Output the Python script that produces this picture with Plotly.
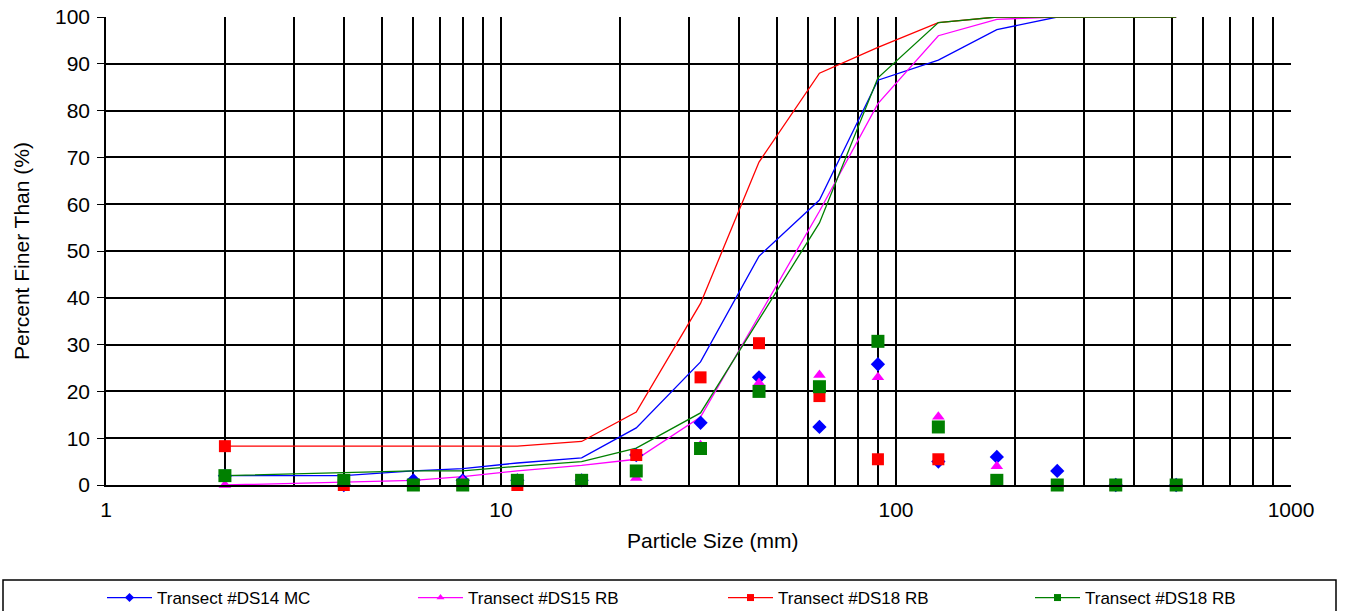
import plotly.graph_objects as go

sizes = [2, 4, 6, 8, 11, 16, 22, 32, 45, 64, 90, 128, 180, 256, 360, 512]

names = ["Transect #DS14 MC", "Transect #DS15 RB", "Transect #DS18 RB", "Transect #DS18 RB"]
colors = ["#0000FF", "#FF00FF", "#FF0000", "#008000"]
symbols = ["diamond", "triangle-up", "square", "square"]
msizes = [11, 11, 12, 13]

# cumulative percent finer (lines)
blue_cum = [2, 2, 3, 3.5, 4.7, 5.8, 12.2, 26.3, 48.9, 60.9, 86.5, 90.8, 97.3, 100, 100, 100]
magenta_cum = [0, 0.7, 1, 1.8, 3, 4.2, 5.5, 14.5, 36, 58.5, 81.5, 96, 99.5, 100, 100, 100]
red_cum = [8.3, 8.3, 8.3, 8.3, 8.3, 9.3, 15.6, 38.8, 69, 88, 93.5, 98.8, 100, 100, 100, 100]
green_cum = [2, 2.6, 3, 3, 4, 5, 7.9, 15.4, 35.5, 56, 87, 98.8, 100, 100, 100, 100]

# percent in each size class (markers)
blue_pct = [2, 0, 1, 1, 1, 1, 6.4, 13.3, 23, 12.4, 25.8, 5, 6, 3, 0, 0]
magenta_pct = [0, 1, 0, 1, 1, 1, 1.5, 8.5, 21.8, 23.5, 23, 14.6, 4, 0, 0, 0]
red_pct = [8.3, 0, 0, 0, 0, 1, 6.4, 23, 30.3, 19, 5.5, 5.5, 1, 0, 0, 0]
green_pct = [2, 1, 0, 0, 1, 1, 3, 7.8, 20, 21, 30.7, 12.4, 1, 0, 0, 0]

cums = [blue_cum, magenta_cum, red_cum, green_cum]
pcts = [blue_pct, magenta_pct, red_pct, green_pct]

x_tickvals = [m * 10 ** e for e in range(0, 3) for m in range(1, 10)] + [1000]
x_ticktext = [str(v) if v in (1, 10, 100, 1000) else "" for v in x_tickvals]
y_tickvals = list(range(0, 101, 10))

W, H = 1345, 611
L, R, T, B = 106, 54, 17, 126
pw = W - L - R
ph = H - T - B

def px_x(p):
    return (p - L) / pw

def px_y(p):
    return (H - B - p) / ph

legend_ids = ["legend", "legend2", "legend3", "legend4"]
legend_px = [102, 413, 723, 1030]

fig = go.Figure()

for i in range(4):
    fig.add_trace(go.Scatter(x=sizes, y=cums[i], mode="lines",
                             line=dict(color=colors[i], width=1.3),
                             showlegend=False, hoverinfo="skip"))
for i in range(4):
    fig.add_trace(go.Scatter(x=sizes, y=pcts[i], mode="markers",
                             marker=dict(color=colors[i], symbol=symbols[i], size=msizes[i]),
                             showlegend=False, cliponaxis=False))
for i in range(4):
    fig.add_trace(go.Scatter(x=[None], y=[None], mode="lines+markers", name=names[i],
                             legend=legend_ids[i],
                             line=dict(color=colors[i], width=1.3),
                             marker=dict(color=colors[i], symbol=symbols[i], size=7)))

fig.add_shape(type="rect", xref="paper", yref="paper",
              x0=px_x(3), x1=px_x(1336), y0=px_y(580), y1=px_y(616),
              line=dict(color="black", width=1.5), fillcolor="rgba(0,0,0,0)")

fig.add_annotation(text="Particle Size (mm)", xref="paper", yref="paper",
                   x=px_x(713), y=px_y(540), xanchor="center", yanchor="middle",
                   showarrow=False, font=dict(size=21))

legend_layout = {}
for i in range(4):
    legend_layout[legend_ids[i]] = dict(
        orientation="h", x=px_x(legend_px[i]), xanchor="left", y=px_y(580), yanchor="top",
        font=dict(size=17), bgcolor="rgba(0,0,0,0)", itemwidth=45)

fig.update_layout(
    width=W, height=H,
    margin=dict(l=L, r=R, t=T, b=B, autoexpand=False),
    paper_bgcolor="white", plot_bgcolor="white",
    font=dict(family="Liberation Sans, Arial, sans-serif", color="black", size=21),
    showlegend=True,
    xaxis=dict(type="log", range=[0, 3], tickvals=x_tickvals, ticktext=x_ticktext,
               showgrid=True, gridcolor="black", gridwidth=1.6,
               showline=True, linecolor="black", linewidth=1.6, mirror=False,
               ticks="", ticklabelstandoff=5, zeroline=False),
    yaxis=dict(range=[0, 100], tickvals=y_tickvals, showgrid=True, gridcolor="black", gridwidth=1.6,
               showline=True, linecolor="black", linewidth=1.6, ticks="outside", ticklen=7,
               tickcolor="black", ticklabelstandoff=3, zeroline=False,
               title=dict(text="Percent Finer Than (%)", font=dict(size=21), standoff=20)),
    **legend_layout,
)

fig.write_html("out.html")
